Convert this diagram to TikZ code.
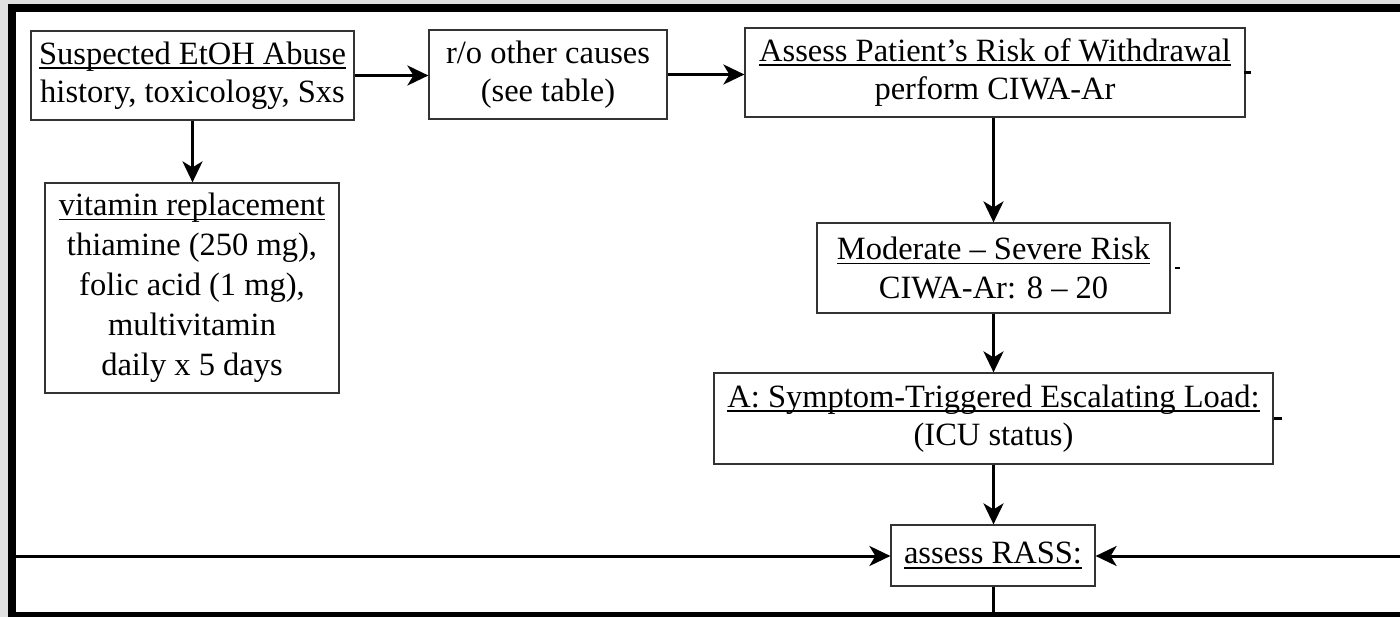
\documentclass[tikz,border=0pt]{standalone}
\usepackage{fontspec}
\setmainfont{Liberation Serif}
\usetikzlibrary{arrows.meta,calc}
\definecolor{bggray}{RGB}{224,224,224}
\newcommand\myul[1]{\setbox0\hbox{#1}\rlap{\rule[-4.6pt]{\wd0}{1.8pt}}\box0}
\begin{document}
\begin{tikzpicture}[x=1pt,y=-1pt,
  box/.style={draw=black!80, line width=1.2pt, inner sep=0pt, align=center,
    font=\fontsize{32.5}{38.5}\selectfont},
  arr/.style={line width=3pt, -{Stealth[length=21pt,width=20pt,inset=6pt]}},
  plainline/.style={line width=3pt},
  tickmark/.style={line width=2.2pt}]
\useasboundingbox (0,0) rectangle (1400,617);
\fill[bggray] (0,0) rectangle (1400,617);
\fill[black] (8,4) rectangle (1400,617);
\fill[white] (16,12) rectangle (1400,612);

\node[box, minimum width=323pt, minimum height=89pt] (sus) at (192.5,75.5)
  {\myul{Suspected EtOH Abuse}\\history, toxicology, Sxs};
\node[box, minimum width=238pt, minimum height=89pt] (ro) at (548,74.5)
  {r/o other causes\\(see table)};
\node[box, minimum width=500pt, minimum height=89pt] (assess) at (995,72.5)
  {\myul{Assess Patient’s Risk of Withdrawal}\\perform CIWA-Ar};
\node[box, minimum width=294pt, minimum height=210pt, font=\fontsize{32.5}{40}\selectfont] (vit) at (192,288)
  {\myul{vitamin replacement}\\thiamine (250 mg),\\folic acid (1 mg),\\multivitamin\\daily x 5 days};
\node[box, minimum width=353pt, minimum height=90pt] (mod) at (993.5,268)
  {\myul{Moderate – Severe Risk}\\CIWA-Ar: 8 – 20};
\node[box, minimum width=559pt, minimum height=91pt] (A) at (993.5,418.5)
  {\myul{A: Symptom-Triggered Escalating Load:}\\(ICU status)};
\node[box, minimum width=204pt, minimum height=61pt] (rass) at (993,555.5)
  {\myul{assess RASS:}};

\draw[tickmark] ($(assess.east)+(-2,0)$) -- ++(7,0);
\draw[tickmark] ($(mod.east)+(4,0)$) -- ++(5,0);
\draw[tickmark] ($(A.east)+(0,0)$) -- ++(8,0);

\coordinate (lin) at (16,556);
\coordinate (rin) at (1400,556);
\coordinate (bot) at (993,612);

\draw[arr] (sus.east) -- (sus.east -| ro.west);
\draw[arr] (ro.east) -- (ro.east -| assess.west);
\draw[arr] (sus.south) -- (sus.south |- vit.north);
\draw[arr] (assess.south -| mod.north) -- (mod.north);
\draw[arr] (mod.south) -- (A.north);
\draw[arr] (A.south) -- (A.south |- rass.north);
\draw[arr] (lin) -- (lin -| rass.west);
\draw[arr] (rin) -- (rin -| rass.east);
\draw[plainline] (rass.south) -- (rass.south |- bot);
\end{tikzpicture}
\end{document}
